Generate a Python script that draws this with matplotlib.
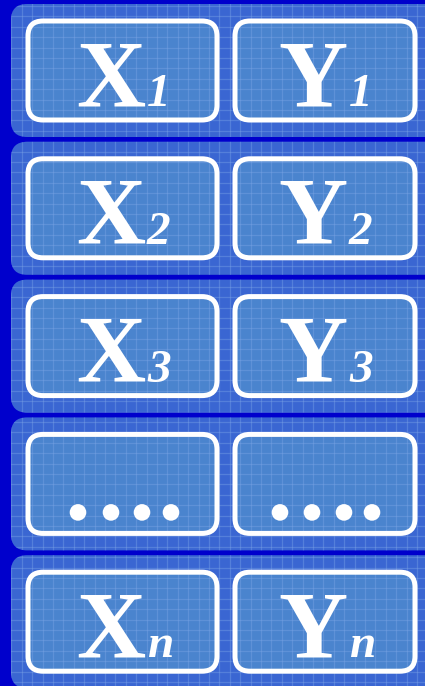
import matplotlib
matplotlib.use("Agg")
import matplotlib.pyplot as plt
from matplotlib.patches import FancyBboxPatch, Circle
from matplotlib.collections import LineCollection
import numpy as np

# ---- data ----
row_labels = ["1", "2", "3", "....", "n"]
left_symbols = ["X", "X", "X", "", "X"]
right_symbols = ["Y", "Y", "Y", "", "Y"]
dots_left_x = [78, 111, 142, 171]
dots_right_x = [280, 312, 344, 372]

# ---- style ----
W, H = 425, 686
BG = "#0000CC"
PANEL = "#3A66D2"
INNER = "#4A84CE"
GRID = "#7FA8E8"

fig = plt.figure(figsize=(W / 100, H / 100), dpi=100)
fig.patch.set_facecolor(BG)
ax = fig.add_axes([0, 0, 1, 1])
ax.set_xlim(0, W)
ax.set_ylim(H, 0)
ax.set_aspect("auto")
ax.axis("off")

row_step = 137.8
panel_h = 133
box_specs = [(26, 219), (233, 417)]

for i, lab in enumerate(row_labels):
    top = 4 + row_step * i
    panel = FancyBboxPatch((11, top), 430, panel_h,
                           boxstyle="round,pad=0,rounding_size=16",
                           fc=PANEL, ec="none", zorder=1)
    ax.add_patch(panel)
    for (x0, x1) in box_specs:
        b = FancyBboxPatch((x0, top + 15), x1 - x0, 103,
                           boxstyle="round,pad=0,rounding_size=17",
                           fc=INNER, ec="none", zorder=2)
        ax.add_patch(b)
    segs = []
    for gx in np.arange(1, W + 20, 10.4):
        segs.append([(gx, top - 5), (gx, top + panel_h + 5)])
    for gy in np.arange(6, H + 20, 10.4):
        if top - 5 <= gy <= top + panel_h + 5:
            segs.append([(0, gy), (W + 20, gy)])
    lc = LineCollection(segs, colors=GRID, linewidths=0.9, alpha=0.38, zorder=3)
    lc.set_clip_path(panel)
    ax.add_collection(lc)
    for (x0, x1) in box_specs:
        b = FancyBboxPatch((x0 + 2, top + 17), x1 - x0 - 4, 99,
                           boxstyle="round,pad=0,rounding_size=15",
                           fc="none", ec="white", lw=3.6, zorder=4)
        ax.add_patch(b)

    base = top + 102
    if lab == "....":
        for dx in dots_left_x + dots_right_x:
            ax.add_patch(Circle((dx, top + 95), 8.3, fc="white", ec="none", zorder=5))
    else:
        ax.text(76, base, left_symbols[i], family="Liberation Serif", weight="bold",
                fontsize=69, color="white", ha="left", va="baseline", zorder=6)
        ax.text(147, base, lab, family="Liberation Serif", style="italic",
                weight="bold", fontsize=34, color="white",
                ha="left", va="baseline", zorder=6)
        ax.text(278, base, right_symbols[i], family="Liberation Serif", weight="bold",
                fontsize=69, color="white", ha="left", va="baseline", zorder=6)
        ax.text(349, base, lab, family="Liberation Serif", style="italic",
                weight="bold", fontsize=34, color="white",
                ha="left", va="baseline", zorder=6)

fig.savefig("out.png", dpi=100, facecolor=BG)
